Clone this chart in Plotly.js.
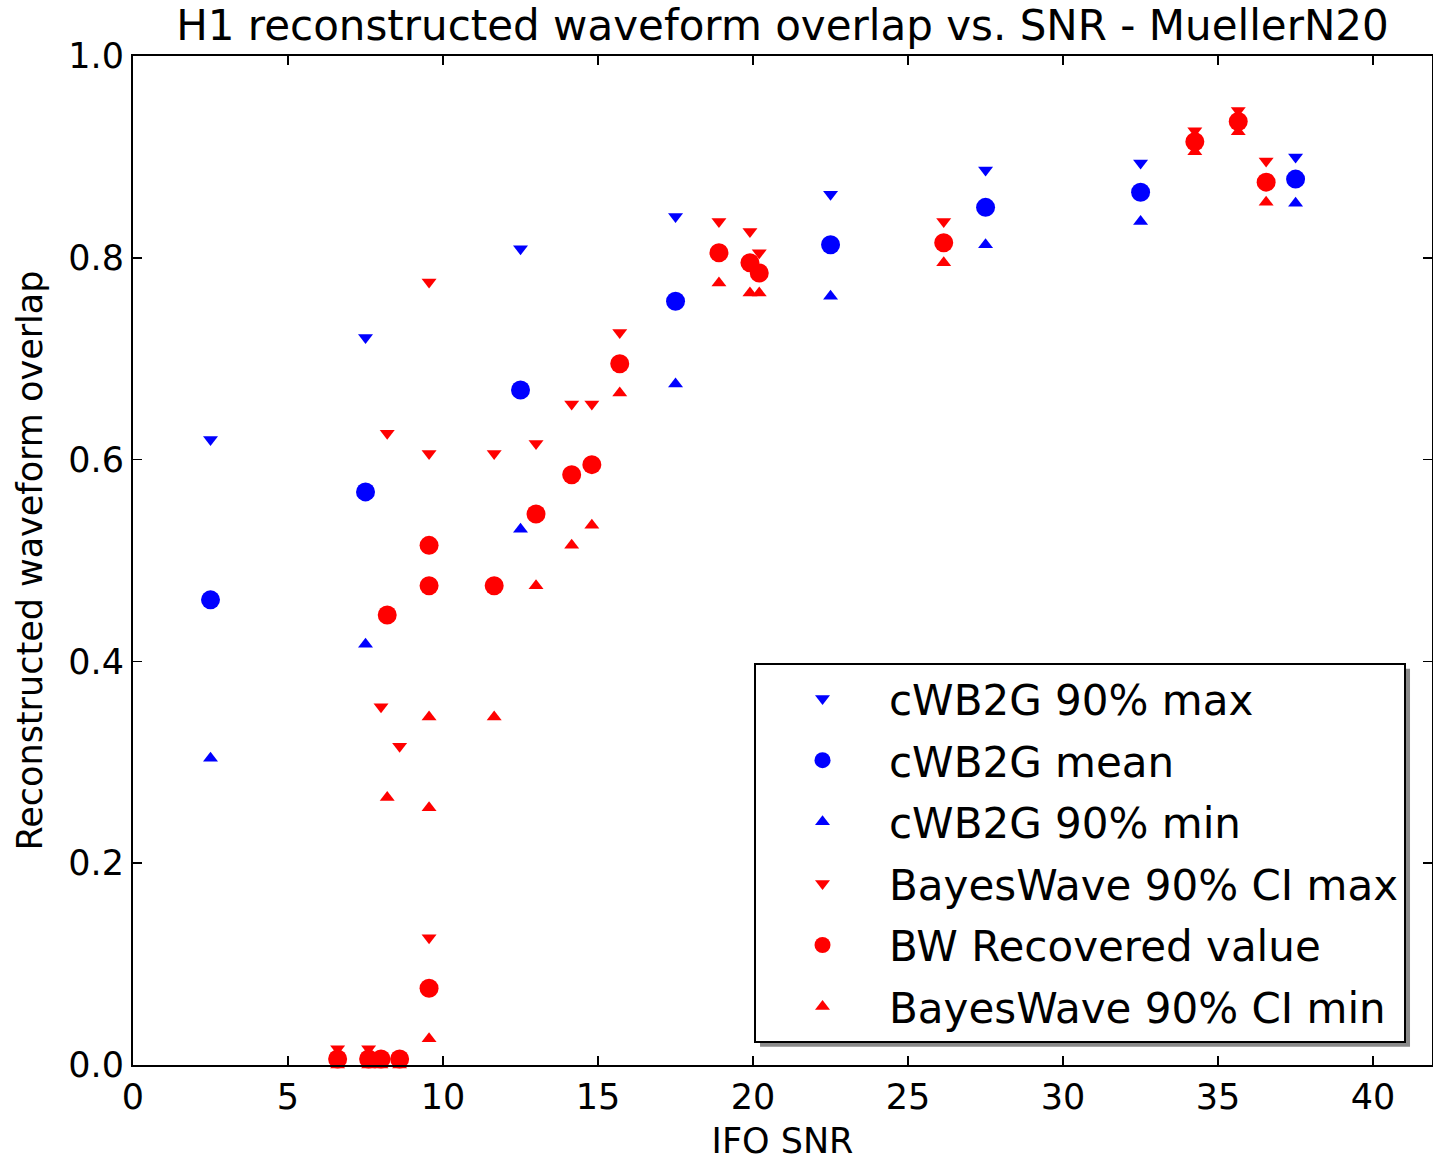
<!DOCTYPE html>
<html>
<head>
<meta charset="utf-8">
<script src="https://cdn.plot.ly/plotly-3.0.1.min.js"></script>
<style>html,body{margin:0;padding:0;background:#fff;}#chart{width:1433px;height:1161px;}</style>
</head>
<body>
<div id="chart"></div>
<script>
// cWB2G series
const cwbSNR  = [2.5, 7.5, 12.5, 17.5, 22.5, 27.5, 32.5, 37.5];
const cwbMax  = [0.620, 0.721, 0.809, 0.841, 0.863, 0.887, 0.894, 0.900];
const cwbMean = [0.461, 0.568, 0.669, 0.757, 0.813, 0.850, 0.865, 0.878];
const cwbMin  = [0.304, 0.417, 0.531, 0.675, 0.762, 0.813, 0.836, 0.854];

// BayesWave series
const bwSNR  = [6.6, 7.6, 8.0, 8.6, 8.2, 9.55, 9.55, 9.55, 11.65, 13.0, 14.15, 14.8, 15.7, 18.9, 19.9, 20.2, 26.15, 34.25, 35.65, 36.55];
const bwMax  = [0.016, 0.016, 0.355, 0.316, 0.626, 0.776, 0.606, 0.126, 0.606, 0.616, 0.655, 0.655, 0.726, 0.836, 0.826, 0.805, 0.836, 0.926, 0.946, 0.896];
const bwMean = [0.006, 0.006, 0.006, 0.006, 0.446, 0.515, 0.475, 0.076, 0.475, 0.546, 0.585, 0.595, 0.695, 0.805, 0.795, 0.785, 0.815, 0.915, 0.935, 0.875];
const bwMin  = [0.000, 0.000, 0.000, 0.000, 0.265, 0.345, 0.255, 0.026, 0.345, 0.475, 0.515, 0.535, 0.666, 0.775, 0.765, 0.765, 0.795, 0.905, 0.925, 0.855];

const xTicks = [0, 5, 10, 15, 20, 25, 30, 35, 40];
const yTicks = [0.0, 0.2, 0.4, 0.6, 0.8, 1.0];

const BLUE = '#0000ff', RED = '#ff0000';
const TRI = 13, DOT = 19;

function tr(x, y, name, color, symbol, size, group) {
  return {
    x: x, y: y, name: name, type: 'scatter', mode: 'markers',
    legendgroup: group, cliponaxis: false,
    marker: {color: color, symbol: symbol, size: size, line: {width: 0}}
  };
}

const data = [
  tr(cwbSNR, cwbMax,  'cWB2G 90% max', BLUE, 'triangle-down', TRI, 'g1'),
  tr(cwbSNR, cwbMean, 'cWB2G mean', BLUE, 'circle', DOT, 'g2'),
  tr(cwbSNR, cwbMin,  'cWB2G 90% min', BLUE, 'triangle-up', TRI, 'g3'),
  tr(bwSNR, bwMax,  'BayesWave 90% CI max', RED, 'triangle-down', TRI, 'g4'),
  tr(bwSNR, bwMean, 'BW Recovered value', RED, 'circle', DOT, 'g5'),
  tr(bwSNR, bwMin,  'BayesWave 90% CI min', RED, 'triangle-up', TRI, 'g6')
];

const FONT = 'DejaVu Sans, sans-serif';
const axisCommon = {
  showgrid: false, zeroline: false, showline: true, linecolor: '#000', linewidth: 2,
  mirror: 'ticks', ticks: 'inside', ticklen: 9, tickwidth: 1.5, tickcolor: '#000',
  tickfont: {family: FONT, size: 35, color: '#000'}
};

const layout = {
  width: 1433, height: 1161,
  margin: {l: 133, r: 1, t: 56, b: 96},
  paper_bgcolor: '#fff', plot_bgcolor: '#fff',
  title: {text: 'H1 reconstructed waveform overlap vs. SNR - MuellerN20',
          font: {family: FONT, size: 42, color: '#000'}, x: 0.5, xref: 'paper', xanchor: 'center', y: 0.978, yanchor: 'middle'},
  xaxis: Object.assign({}, axisCommon, {
    range: [0, 41.9], tickvals: xTicks, ticktext: xTicks.map(String),
    title: {text: 'IFO SNR', font: {family: FONT, size: 35, color: '#000'}, standoff: 16}
  }),
  yaxis: Object.assign({}, axisCommon, {
    range: [0, 1.0], tickvals: yTicks, ticktext: yTicks.map(v => v.toFixed(1)),
    title: {text: 'Reconstructed waveform overlap', font: {family: FONT, size: 35, color: '#000'}, standoff: 15}
  }),
  showlegend: true,
  legend: {
    x: 0.980, y: 0.022, xanchor: 'right', yanchor: 'bottom',
    bgcolor: '#fff', bordercolor: '#000', borderwidth: 2,
    font: {family: FONT, size: 42, color: '#000'},
    tracegroupgap: 4, itemsizing: 'trace', itemwidth: 123,
    traceorder: 'grouped'
  },
  shapes: []
};

Plotly.newPlot('chart', data, layout, {displayModeBar: false, staticPlot: true}).then(function (gd) {
  // drop shadow behind the legend box, sized from the rendered legend
  const bg = gd.querySelector('.legend .bg');
  if (!bg) return;
  const r = bg.getBoundingClientRect();
  const c = gd.getBoundingClientRect();
  const fs = gd._fullLayout._size;
  const px = v => (v - c.left - fs.l) / fs.w;
  const py = v => 1 - (v - c.top - fs.t) / fs.h;
  const off = 5;
  return Plotly.relayout(gd, {shapes: [{
    type: 'rect', xref: 'paper', yref: 'paper', layer: 'above',
    x0: px(r.left + off), x1: px(r.right + off), y0: py(r.bottom + off), y1: py(r.top + off),
    fillcolor: '#8a8a8a', line: {width: 0}
  }]});
});
</script>
</body>
</html>
